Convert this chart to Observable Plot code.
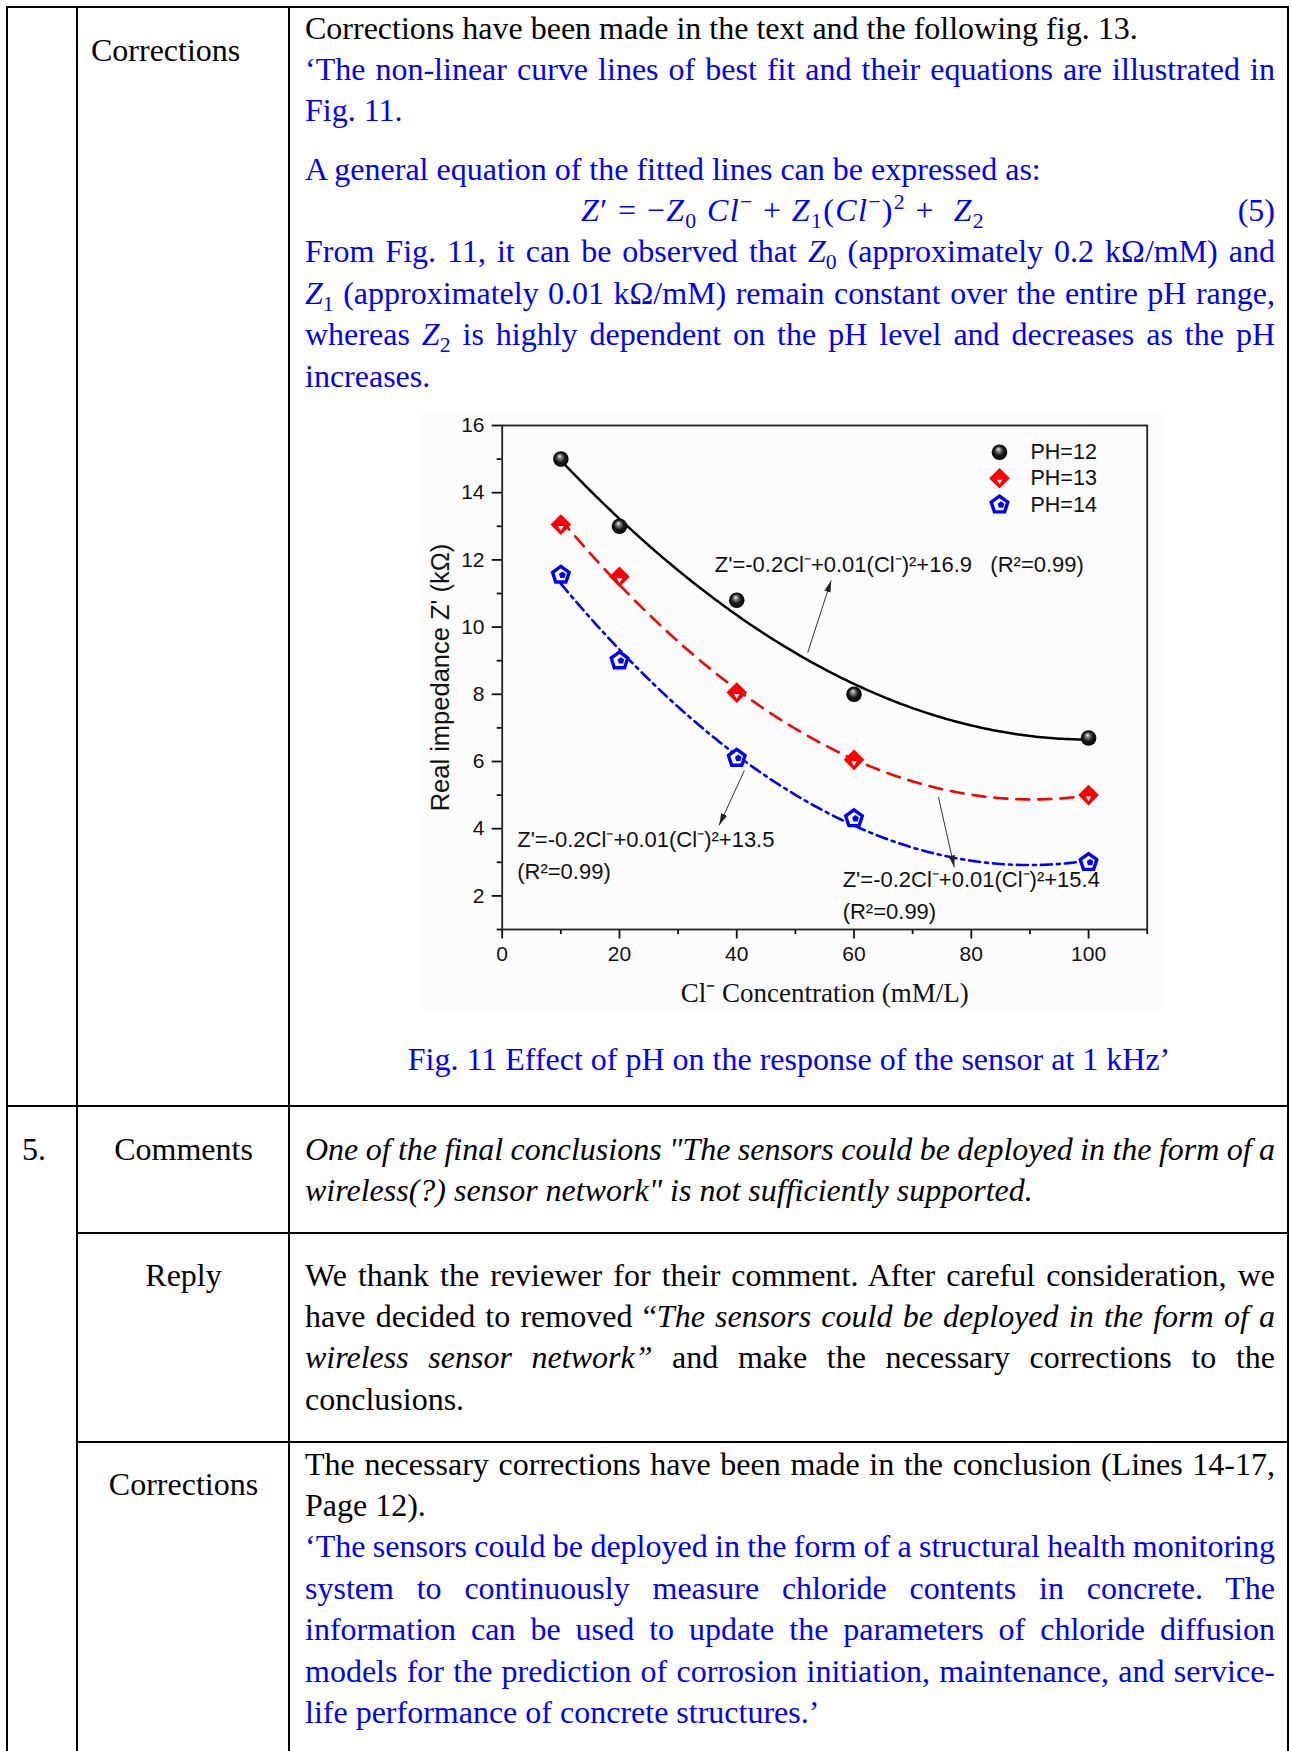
<!DOCTYPE html>
<html>
<head>
<meta charset="utf-8">
<script src="https://cdn.jsdelivr.net/npm/d3@7"></script>
<script src="https://cdn.jsdelivr.net/npm/@observablehq/plot@0.6"></script>
<style>
  html, body { margin: 0; padding: 0; background: #fff; }
  body {
    width: 1292px; height: 1751px; position: relative; overflow: hidden;
    font-family: "Liberation Serif", "Times New Roman", serif;
    font-size: 32px; color: #000;
  }
  .v { position: absolute; top: 6px; bottom: 0; width: 2px; background: #000; }
  .h { position: absolute; height: 2px; background: #000; }
  .blk { position: absolute; left: 305px; width: 970px; line-height: 41.4px; }
  .blk > div { white-space: nowrap; }
  .blue { color: #0000ff; }
  .lbl { position: absolute; line-height: 41.4px; white-space: nowrap; }
  .ctr { left: 77px; width: 213px; text-align: center; }
  sub, sup { font-size: 0.68em; line-height: 0; }
  #chart { position: absolute; left: 422px; top: 410px; }
</style>
</head>
<body>
<!-- table rules -->
<div class="h" style="top:6px;left:6px;width:1283px"></div>
<div class="v" style="left:6px"></div>
<div class="v" style="left:76px"></div>
<div class="v" style="left:288px"></div>
<div class="v" style="left:1287px"></div>
<div class="h" style="top:1105px;left:6px;width:1283px"></div>
<div class="h" style="top:1232px;left:76px;width:1213px"></div>
<div class="h" style="top:1441px;left:76px;width:1213px"></div>

<!-- row: corrections for comment 4 -->
<div class="lbl" style="left:91px;top:29.5px">Corrections</div>
<div class="blk" style="top:7.5px">
  <div>Corrections have been made in the text and the following fig. 13.</div>
  <div class="j blue">‘The non-linear curve lines of best fit and their equations are illustrated in</div>
  <div class="blue">Fig. 11.</div>
</div>
<div class="blk blue" style="top:148.5px">
  <div>A general equation of the fitted lines can be expressed as:</div>
  <div><span class="eq" data-w="404" style="margin-left:276px;display:inline-block"><i>Z</i>′ = −<i>Z</i><sub>0</sub> <i>Cl</i><sup>−</sup> + <i>Z</i><sub>1</sub>(<i>Cl</i><sup>−</sup>)<sup>2</sup> + &nbsp;<i>Z</i><sub>2</sub></span><span style="float:right">(5)</span></div>
  <div class="j">From Fig. 11, it can be observed that <i>Z</i><sub>0</sub> (approximately 0.2 kΩ/mM) and</div>
  <div class="j"><i>Z</i><sub>1</sub> (approximately 0.01 kΩ/mM) remain constant over the entire pH range,</div>
  <div class="j">whereas <i>Z</i><sub>2</sub> is highly dependent on the pH level and decreases as the pH</div>
  <div>increases.</div>
</div>
<div id="chart"></div>
<div class="lbl blue" style="left:290px;width:998px;text-align:center;top:1038.5px">Fig. 11 Effect of pH on the response of the sensor at 1 kHz’</div>

<!-- comment 5 -->
<div class="lbl" style="left:22px;top:1128.5px">5.</div>
<div class="lbl ctr" style="top:1128.5px">Comments</div>
<div class="blk" style="top:1128.5px;font-style:italic">
  <div class="j">One of the final conclusions "The sensors could be deployed in the form of a</div>
  <div>wireless(?) sensor network" is not sufficiently supported.</div>
</div>

<div class="lbl ctr" style="top:1254.5px">Reply</div>
<div class="blk" style="top:1254.5px">
  <div class="j">We thank the reviewer for their comment. After careful consideration, we</div>
  <div class="j">have decided to removed “<i>The sensors could be deployed in the form of a</i></div>
  <div class="j"><i>wireless sensor network”</i> and make the necessary corrections to the</div>
  <div>conclusions.</div>
</div>

<div class="lbl ctr" style="top:1463.5px">Corrections</div>
<div class="blk" style="top:1443.5px">
  <div class="j">The necessary corrections have been made in the conclusion (Lines 14-17,</div>
  <div>Page 12).</div>
  <div class="j blue">‘The sensors could be deployed in the form of a structural health monitoring</div>
  <div class="j blue">system to continuously measure chloride contents in concrete. The</div>
  <div class="j blue">information can be used to update the parameters of chloride diffusion</div>
  <div class="j blue">models for the prediction of corrosion initiation, maintenance, and service-</div>
  <div class="blue">life performance of concrete structures.’</div>
</div>

<script>
// Full justification: spread (or tighten) the word gaps of each justified line to the column width
const COLUMN_WIDTH = 970;
document.querySelectorAll(".j").forEach((div) => {
  const span = document.createElement("span");
  while (div.firstChild) span.appendChild(div.firstChild);
  div.appendChild(span);
  const w = span.getBoundingClientRect().width;
  const gaps = (span.textContent.trim().match(/ +/g) || []).length;
  if (gaps) div.style.wordSpacing = (COLUMN_WIDTH - w) / gaps + "px";
});
// Display equation set to its measured width
document.querySelectorAll(".eq").forEach((el) => {
  const target = +el.dataset.w;
  const w = el.getBoundingClientRect().width;
  const n = el.textContent.length;
  el.style.letterSpacing = (target - w) / n + "px";
});

// Measured real impedance Z' (kΩ) against chloride concentration (mM/L)
const chloride = [10, 20, 40, 60, 100];
const zPH12 = [15.0, 13.0, 10.8, 8.0, 6.7];
const zPH13 = [13.05, 11.5, 8.05, 6.05, 5.0];
const zPH14 = [11.55, 9.0, 6.1, 4.3, 3.0];
const seriesNames = ["PH=12", "PH=13", "PH=14"];
const seriesColors = ["#000000", "#ff0000", "#0000ff"];

// Axis ticks
const xTicks = [0, 20, 40, 60, 80, 100];
const xMinorTicks = [10, 30, 50, 70, 90, 110];
const yTicks = [2, 4, 6, 8, 10, 12, 14, 16];
const yMinorTicks = [1, 3, 5, 7, 9, 11, 13, 15];

// Fitted-equation annotations (anchor in data units) and their pointer arrows
const eqText = [
  "Z'=-0.2Cl⁻+0.01(Cl⁻)²+16.9\u00a0\u00a0\u00a0(R²=0.99)",
  "Z'=-0.2Cl⁻+0.01(Cl⁻)²+13.5\n(R²=0.99)",
  "Z'=-0.2Cl⁻+0.01(Cl⁻)²+15.4\n(R²=0.99)"
];
const eqX = [36.25, 2.56, 58.06];
const eqY = [11.65, 2.51, 1.32];
const arrowX1 = [52.1, 41.3, 74.4];
const arrowY1 = [9.24, 5.73, 4.94];
const arrowX2 = [56.1, 37.0, 77.1];
const arrowY2 = [11.39, 4.1, 2.85];

const SANS = "Liberation Sans, Arial, Helvetica, sans-serif";
const SERIF = "Liberation Serif, Times New Roman, serif";

// Least-squares quadratic z = c0 + c1·x + c2·x² through one series
function quadFit(xs, ys) {
  const A = [[0, 0, 0], [0, 0, 0], [0, 0, 0]], b = [0, 0, 0];
  xs.forEach((x, i) => {
    const p = [1, x, x * x];
    for (let r = 0; r < 3; r++) {
      b[r] += p[r] * ys[i];
      for (let c = 0; c < 3; c++) A[r][c] += p[r] * p[c];
    }
  });
  for (let k = 0; k < 3; k++) {
    for (let r = k + 1; r < 3; r++) {
      const f = A[r][k] / A[k][k];
      for (let c = k; c < 3; c++) A[r][c] -= f * A[k][c];
      b[r] -= f * b[k];
    }
  }
  const coef = [0, 0, 0];
  for (let k = 2; k >= 0; k--) {
    let s = b[k];
    for (let c = k + 1; c < 3; c++) s -= A[k][c] * coef[c];
    coef[k] = s / A[k][k];
  }
  return coef;
}

const seriesValues = [zPH12, zPH13, zPH14];
const points = seriesNames.flatMap((s, k) =>
  chloride.map((x, i) => ({series: s, x, z: seriesValues[k][i]})));

const fitted = seriesNames.flatMap((s, k) => {
  const [c0, c1, c2] = quadFit(chloride, seriesValues[k]);
  const lo = d3.min(chloride), hi = d3.max(chloride);
  return d3.range(lo, hi + 0.001, 0.5).map((x) => ({series: s, x, z: c0 + c1 * x + c2 * x * x}));
});

const annotations = eqText.map((t, i) => ({text: t, x: eqX[i], y: eqY[i]}));
const arrows = arrowX1.map((_, i) => ({x1: arrowX1[i], y1: arrowY1[i], x2: arrowX2[i], y2: arrowY2[i]}));

// Pentagon marker for the pH 14 series
const pentagon = {
  draw(ctx, size) {
    const r = Math.sqrt(size / Math.PI) * 1.05;
    for (let k = 0; k < 5; k++) {
      const a = -Math.PI / 2 + (k * 2 * Math.PI) / 5;
      const px = r * Math.cos(a), py = r * Math.sin(a);
      if (k === 0) ctx.moveTo(px, py); else ctx.lineTo(px, py);
    }
    ctx.closePath();
  }
};

const bySeries = (s) => points.filter((d) => d.series === s);
const fitOf = (s) => fitted.filter((d) => d.series === s);

// Markers for each series, reused in the legend
function markerMarks(data, opts) {
  const [s12, s13, s14] = data;
  return [
    Plot.dot(s12, {...opts, r: 7.8, fill: "url(#sphere)", stroke: "none"}),
    Plot.dot(s13, {...opts, symbol: "diamond2", r: 9.3, fill: seriesColors[1], stroke: "none"}),
    Plot.dot(s13, {...opts, symbol: "triangle2", rotate: 180, r: 2.6, fill: "#fff", dy: (opts.dy || 0) + 3}),
    Plot.dot(s14, {...opts, symbol: pentagon, r: 8.3, fill: "#fff", stroke: seriesColors[2], strokeWidth: 3.4}),
    Plot.dot(s14, {...opts, symbol: pentagon, r: 3.4, fill: seriesColors[2], dx: (opts.dx || 0) + 1.5})
  ];
}

const legendRows = [26.7, 52.7, 79.3];

const chart = Plot.plot({
  width: 740,
  height: 602,
  marginLeft: 79.7,
  marginRight: 15.3,
  marginTop: 15,
  marginBottom: 83,
  x: {domain: [0, 110], label: null},
  y: {domain: [1, 16], label: null},
  style: {background: "#fcfcfc", color: "#111", overflow: "visible"},
  marks: [
    Plot.axisX({ticks: xMinorTicks, tickSize: 5, tickFormat: () => "", strokeWidth: 1.8, label: null}),
    Plot.axisY({ticks: yMinorTicks, tickSize: 5, tickFormat: () => "", strokeWidth: 1.8, label: null}),
    Plot.axisX({ticks: xTicks, tickSize: 9.5, tickPadding: 7.5, fontSize: 21, fontFamily: SANS, strokeWidth: 1.8, label: null}),
    Plot.axisY({ticks: yTicks, tickSize: 10, tickPadding: 7.7, fontSize: 21, fontFamily: SANS, strokeWidth: 1.8, label: null}),
    Plot.frame({stroke: "#222", strokeWidth: 1.8}),

    // axis titles
    Plot.text(["Real impedance Z' (kΩ)"], {frameAnchor: "left", dx: -53.7, rotate: -90, textAnchor: "middle",
      lineAnchor: "bottom", fontSize: 25.5, fontFamily: SANS, fill: "#111"}),
    Plot.text(["Cl⁻ Concentration (mM/L)"], {frameAnchor: "bottom", dy: 72, textAnchor: "middle",
      lineAnchor: "bottom", fontSize: 27, fontFamily: SERIF, fill: "#111"}),

    // fitted curves
    Plot.line(fitOf("PH=12"), {x: "x", y: "z", stroke: seriesColors[0], strokeWidth: 2.5}),
    Plot.line(fitOf("PH=13"), {x: "x", y: "z", stroke: seriesColors[1], strokeWidth: 2.6, strokeDasharray: "13,9"}),
    Plot.line(fitOf("PH=14"), {x: "x", y: "z", stroke: seriesColors[2], strokeWidth: 2.6, strokeDasharray: "11,5,3,5"}),

    // pointer arrows to the equations
    Plot.link(arrows, {x1: "x1", y1: "y1", x2: "x2", y2: "y2", stroke: "#333", strokeWidth: 1}),

    // measured points
    ...markerMarks([bySeries("PH=12"), bySeries("PH=13"), bySeries("PH=14")], {x: "x", y: "z"}),

    // equation labels
    Plot.text(annotations, {x: "x", y: "y", text: "text", textAnchor: "start", lineAnchor: "bottom",
      lineHeight: 1.44, fontSize: 22, fontFamily: SANS, fill: "#111"}),

    // legend
    ...seriesNames.flatMap((s, k) => {
      const d = [[s], [s], [s]].map((v, j) => (j === k ? v : []));
      return [
        ...markerMarks(d, {frameAnchor: "top-right", dx: -147.7, dy: legendRows[k]}),
        Plot.text([s], {frameAnchor: "top-right", dx: -116.7, dy: legendRows[k], text: (t) => t,
          textAnchor: "start", lineAnchor: "middle", fontSize: 21.5, fontFamily: SANS, fill: "#111"})
      ];
    })
  ]
});

// shaded sphere fill and filled arrowheads
d3.select(chart).insert("defs", ":first-child").html(`
  <radialGradient id="sphere" cx="0.5" cy="0.5" r="0.55" fx="0.42" fy="0.3">
    <stop offset="0" stop-color="#f2f2f2"/>
    <stop offset="0.22" stop-color="#8a8a8a"/>
    <stop offset="0.55" stop-color="#1a1a1a"/>
    <stop offset="1" stop-color="#000"/>
  </radialGradient>
  <marker id="ahead" viewBox="0 0 12 8" refX="12" refY="4" markerWidth="12" markerHeight="8"
          markerUnits="userSpaceOnUse" orient="auto">
    <path d="M0,0.8 L12,4 L0,7.2 Z" fill="#222"/>
  </marker>`);
chart.querySelectorAll('g[aria-label="link"] path').forEach((p) => p.setAttribute("marker-end", "url(#ahead)"));

document.getElementById("chart").appendChild(chart);
</script>
</body>
</html>
